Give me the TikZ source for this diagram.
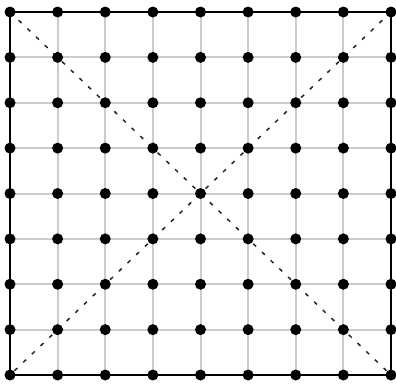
\documentclass[tikz,border=0pt]{standalone}
\begin{document}
\begin{tikzpicture}[x=1pt,y=-1pt,
  gridline/.style={draw=black!20,line width=2pt},
  border/.style={draw=black,line width=2.6pt},
  diag/.style={draw=black!85,line width=1.5pt,dash pattern=on 4pt off 8pt},
  dot/.style={fill=black}]
\useasboundingbox (0,0) rectangle (396,383);
\def\xa{10}\def\xb{391}\def\ya{12}\def\yb{375}
\foreach \i in {1,...,7}{
  \pgfmathsetmacro\gx{\xa+\i*(\xb-\xa)/8}
  \pgfmathsetmacro\gy{\ya+\i*(\yb-\ya)/8}
  \draw[gridline] (\gx,\ya) -- (\gx,\yb);
  \draw[gridline] (\xa,\gy) -- (\xb,\gy);
}
\draw[diag] (\xa,\ya) -- (\xb,\yb);
\draw[diag] (\xb,\ya) -- (\xa,\yb);
\draw[border] (\xa,\ya) rectangle (\xb,\yb);
\foreach \i in {0,...,8}{
  \foreach \j in {0,...,8}{
    \pgfmathsetmacro\gx{\xa+\i*(\xb-\xa)/8}
    \pgfmathsetmacro\gy{\ya+\j*(\yb-\ya)/8}
    \fill[dot] (\gx,\gy) circle (5.5pt);
  }
}
\end{tikzpicture}
\end{document}
